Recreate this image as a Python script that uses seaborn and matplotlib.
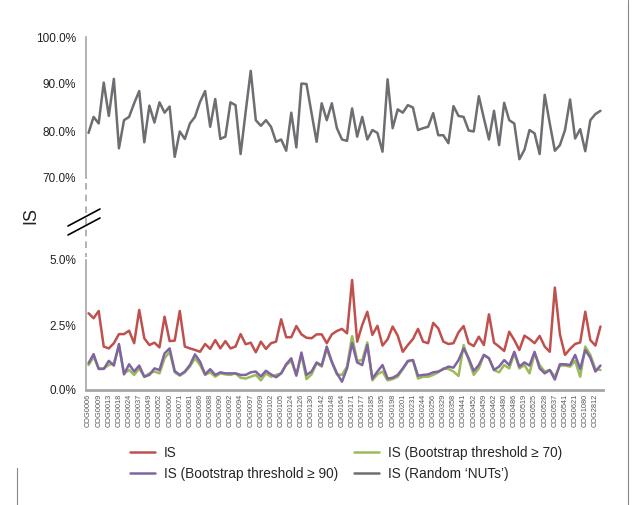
import numpy as np
import pandas as pd
import matplotlib
matplotlib.use("Agg")
import matplotlib.pyplot as plt
from matplotlib.lines import Line2D
import seaborn as sns

# ======================
# DATA (values in %)
# ======================

cog_labels = [
    "COG0006", "COG0009", "COG0013", "COG0018", "COG0024", "COG0037", "COG0049",
    "COG0052", "COG0060", "COG0071", "COG0081", "COG0086", "COG0088", "COG0090",
    "COG0092", "COG0094", "COG0097", "COG0099", "COG0102", "COG0105", "COG0124",
    "COG0126", "COG0130", "COG0142", "COG0148", "COG0164", "COG0171", "COG0177",
    "COG0185", "COG0195", "COG0198", "COG0201", "COG0231", "COG0244", "COG0256",
    "COG0329", "COG0358", "COG0441", "COG0452", "COG0459", "COG0462", "COG0480",
    "COG0486", "COG0519", "COG0525", "COG0528", "COG0537", "COG0541", "COG0621",
    "COG1080", "COG2812",
]

is_random_nuts = [
    79.6, 83.0, 81.6, 90.3, 83.2, 91.1, 76.3, 82.3, 83.0, 85.9,
    88.5, 77.6, 85.4, 81.8, 86.1, 83.9, 85.2, 74.5, 79.9, 78.3,
    81.6, 83.0, 86.2, 88.5, 80.9, 86.8, 78.3, 78.8, 86.1, 85.5,
    75.1, 84.1, 92.8, 82.3, 81.1, 82.3, 80.9, 77.7, 78.2, 75.8,
    83.9, 76.5, 90.1, 90.0, 83.8, 77.7, 85.9, 82.3, 85.9, 80.6,
    78.2, 77.9, 84.8, 78.8, 83.0, 78.2, 80.2, 79.6, 75.6, 91.0,
    80.6, 84.6, 83.9, 85.5, 85.0, 80.2, 80.6, 80.9, 83.8, 79.1,
    79.1, 77.4, 85.3, 83.2, 83.0, 80.1, 79.9, 87.4, 82.7, 78.2,
    84.3, 77.0, 86.0, 82.3, 81.6, 74.0, 76.0, 80.2, 79.5, 75.1,
    87.7, 81.6, 75.8, 77.0, 80.2, 86.7, 78.4, 80.4, 75.7, 82.3,
    83.6, 84.3,
]

is_all = [
    2.95, 2.76, 3.04, 1.67, 1.60, 1.80, 2.15, 2.15, 2.28, 1.80,
    3.08, 1.99, 1.73, 1.82, 1.64, 2.82, 1.88, 1.90, 3.04, 1.67,
    1.60, 1.54, 1.47, 1.77, 1.58, 1.92, 1.60, 1.88, 1.60, 1.67,
    2.15, 1.76, 1.82, 1.45, 1.86, 1.58, 1.80, 1.86, 2.72, 2.03,
    2.03, 2.46, 2.14, 2.01, 1.99, 2.14, 2.14, 1.80, 2.14, 2.27,
    2.35, 2.18, 4.23, 1.86, 2.50, 3.01, 2.12, 2.47, 1.71, 1.95,
    2.44, 2.09, 1.47, 1.73, 1.96, 2.35, 1.86, 1.80, 2.58, 2.37,
    1.86, 1.77, 1.80, 2.22, 2.46, 1.80, 1.69, 2.05, 1.73, 2.91,
    1.82, 1.67, 1.50, 2.24, 1.92, 1.54, 2.09, 1.96, 1.80, 2.08,
    1.67, 1.47, 3.94, 2.14, 1.35, 1.58, 1.77, 1.83, 3.01, 1.92,
    1.71, 2.44,
]

is_bs90 = [
    1.03, 1.38, 0.81, 0.81, 1.12, 0.94, 1.77, 0.60, 0.99, 0.71,
    0.94, 0.51, 0.58, 0.83, 0.77, 1.41, 1.60, 0.73, 0.58, 0.71,
    0.96, 1.37, 1.09, 0.60, 0.80, 0.58, 0.68, 0.64, 0.64, 0.64,
    0.58, 0.58, 0.68, 0.71, 0.52, 0.74, 0.60, 0.49, 0.64, 0.99,
    1.22, 0.55, 1.44, 0.58, 0.71, 1.06, 0.94, 1.67, 1.09, 0.64,
    0.32, 0.83, 1.80, 1.06, 0.96, 1.73, 0.44, 0.71, 0.96, 0.44,
    0.47, 0.58, 0.83, 1.12, 1.15, 0.55, 0.58, 0.60, 0.68, 0.71,
    0.80, 0.90, 0.86, 1.15, 1.60, 1.22, 0.73, 0.96, 1.35, 1.22,
    0.77, 0.90, 1.15, 0.96, 1.47, 0.90, 1.06, 0.94, 1.47, 0.83,
    0.64, 0.77, 0.40, 0.99, 0.99, 0.96, 1.35, 0.81, 1.54, 1.24,
    0.71, 0.94,
]

is_bs70 = [
    0.96, 1.28, 0.83, 0.83, 0.96, 1.03, 1.67, 0.64, 0.77, 0.58,
    0.83, 0.51, 0.64, 0.71, 0.64, 1.22, 1.47, 0.68, 0.55, 0.68,
    0.90, 1.22, 0.96, 0.58, 0.68, 0.51, 0.64, 0.60, 0.58, 0.64,
    0.47, 0.44, 0.51, 0.58, 0.37, 0.64, 0.51, 0.58, 0.64, 0.96,
    1.12, 0.58, 1.35, 0.42, 0.60, 1.03, 0.90, 1.58, 1.06, 0.60,
    0.58, 0.90, 2.07, 1.12, 1.15, 1.83, 0.37, 0.60, 0.71, 0.37,
    0.42, 0.51, 0.80, 1.09, 1.15, 0.44, 0.51, 0.51, 0.58, 0.68,
    0.83, 0.81, 0.71, 0.54, 1.73, 1.15, 0.58, 0.83, 1.35, 1.22,
    0.77, 0.68, 0.96, 0.83, 1.41, 0.83, 0.96, 0.64, 1.41, 0.96,
    0.71, 0.77, 0.51, 0.94, 0.94, 0.90, 1.12, 0.51, 1.67, 1.35,
    0.81, 0.77,
]

series_names = ["IS", "IS (Bootstrap threshold \u2265 90)",
                "IS (Bootstrap threshold \u2265 70)", "IS (Random \u2018NUTs\u2019)"]
series_colors = ["#C0504D", "#8064A2", "#9BBB59", "#6D6E71"]

# =====================
# PLOT
# =====================

sns.set_style("white")
plt.rcParams['font.family'] = ['Liberation Sans', 'DejaVu Sans']

W, H = 634, 505
fig = plt.figure(figsize=(W / 100, H / 100), dpi=100)

def px_axes(x0, y0, x1, y1):
    return fig.add_axes([x0 / W, 1 - y1 / H, (x1 - x0) / W, (y1 - y0) / H])

ax_top = px_axes(86, 37, 603, 178)
ax_bot = px_axes(86, 260, 603, 390)

idx = np.arange(len(is_all))
df = pd.DataFrame({"idx": idx, "all": is_all, "bs90": is_bs90,
                   "bs70": is_bs70, "rand": is_random_nuts})

lw = 1.8
sns.lineplot(data=df, x="idx", y="rand", ax=ax_top, color=series_colors[3], lw=lw)
sns.lineplot(data=df, x="idx", y="bs70", ax=ax_bot, color=series_colors[2], lw=lw)
sns.lineplot(data=df, x="idx", y="bs90", ax=ax_bot, color=series_colors[1], lw=lw)
sns.lineplot(data=df, x="idx", y="all", ax=ax_bot, color=series_colors[0], lw=lw)

axis_grey = "#A6A6A6"
for ax in (ax_top, ax_bot):
    ax.set_xlim(-0.5, len(idx) - 0.5)
    ax.set_xlabel("")
    ax.set_ylabel("")
    ax.spines[['top', 'right']].set_visible(False)
    ax.spines['left'].set_color(axis_grey)
    ax.spines['left'].set_linewidth(1.2)
    ax.tick_params(axis='y', length=0, pad=7, labelsize=8.5, labelcolor="#222222")

ax_top.set_ylim(70, 100)
ax_top.set_yticks([70, 80, 90, 100])
ax_top.set_yticklabels(["70.0%", "80.0%", "90.0%", "100.0%"])
ax_top.spines['bottom'].set_visible(False)
ax_top.set_xticks([])

ax_bot.set_ylim(0, 5)
ax_bot.set_yticks([0, 2.5, 5])
ax_bot.set_yticklabels(["0.0%", "2.5%", "5.0%"])
ax_bot.spines['bottom'].set_color(axis_grey)
ax_bot.spines['bottom'].set_linewidth(2)
ax_bot.set_xticks(idx[::2])
ax_bot.set_xticklabels(cog_labels, rotation=90, fontsize=5.3, color="#555555")
ax_bot.tick_params(axis='x', length=0, pad=3)

# axis break: dashed spine and double slash
fig.add_artist(Line2D([86 / W, 86 / W], [1 - 183 / H, 1 - 257 / H],
                      color=axis_grey, lw=1.2, ls=(0, (4, 3))))
for off in (0, 9):
    fig.add_artist(Line2D([68 / W, 100 / W], [1 - (226 + off) / H, 1 - (209 + off) / H],
                          color="black", lw=1.2))

fig.text(31 / W, 1 - 216 / H, "IS", rotation=90, fontsize=13,
         ha="center", va="center", color="#222222")

handles = [Line2D([], [], color=c, lw=lw) for c in series_colors]
fig.legend(handles, series_names, ncol=2, loc="upper left",
           bbox_to_anchor=(118 / W, 1 - 434 / H), frameon=False,
           fontsize=9.8, handlelength=1.85, handletextpad=0.6,
           columnspacing=1.2, labelspacing=0.5)

# frame lines of the source figure
fig.add_artist(Line2D([628 / W, 628 / W], [0, 1], color="#888888", lw=0.8))
fig.add_artist(Line2D([17 / W, 17 / W], [0, 1 - 468 / H], color="#888888", lw=0.8))

fig.savefig("out.png", dpi=100)
